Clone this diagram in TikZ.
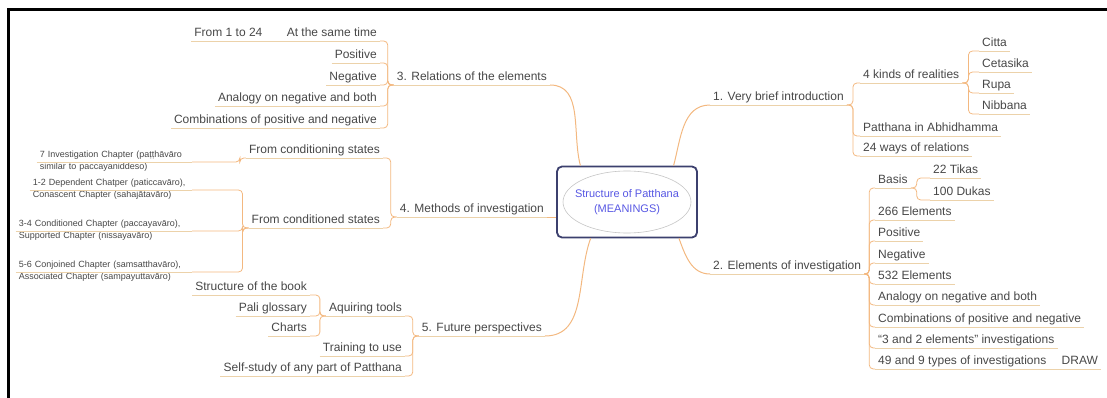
\documentclass[tikz,border=0pt]{standalone}
\usepackage{fontspec}
\setmainfont{Liberation Sans}
\usetikzlibrary{positioning}
\definecolor{branchline}{RGB}{243,184,128}
\definecolor{topiccolor}{RGB}{236,210,170}
\definecolor{titleblue}{RGB}{88,88,228}
\definecolor{boxframe}{RGB}{60,64,110}
\tikzset{
	x=1pt, y=-1pt,
	topicline/.style={draw=topiccolor, line width=0.8pt},
	topic/.style={font=\fontsize{12}{12}\selectfont, text=black!72, inner xsep=3pt, inner ysep=1.5pt, text depth=3pt,
		append after command={(\tikzlastnode.south west) edge[topicline] (\tikzlastnode.south east)}},
	rtopic/.style={topic, anchor=south west},
	ltopic/.style={topic, anchor=south east},
	note/.style={ltopic, font=\fontsize{9}{12}\selectfont, align=left},
	branch/.style={draw=branchline, line width=1pt},
	twig/.style={draw=branchline, line width=0.8pt, rounded corners=4pt},
	main/.style={draw=boxframe, line width=1.8pt, rounded corners=5pt, fill=white, minimum width=140pt,
		minimum height=71pt, align=center, text=titleblue, font=\fontsize{11}{15}\selectfont},
	oval/.style={draw=gray!45, line width=0.6pt},
}
\begin{document}
\begin{tikzpicture}
	\useasboundingbox (0,0) rectangle (1107,398);
	\draw[line width=3pt] (8.5,398) -- (8.5,9.5) -- (1107,9.5);

	\node[main] (PATTHANA) at (627,202) {Structure of Patthana\\(MEANINGS)};
	\draw[oval] (PATTHANA.center) ellipse [x radius=64pt, y radius=31pt];

	\node[rtopic] (INTRO) at (710,105) {1. Very brief introduction};
	\node[rtopic] (kinds) at (860,83) {4 kinds of realities};
	\node[rtopic] (citta) at (979,51) {Citta};
	\node[rtopic] (cetasika) at (979,72) {Cetasika};
	\node[rtopic] (rupa) at (979,93) {Rupa};
	\node[rtopic] (nibbana) at (979,114) {Nibbana};
	\node[rtopic] (abhi) at (860,136) {Patthana in Abhidhamma};
	\node[rtopic] (ways) at (860,156) {24 ways of relations};

	\node[rtopic] (ELEM) at (710,274) {2. Elements of investigation};
	\node[rtopic] (basis) at (875,188) {Basis};
	\node[rtopic] (tikas) at (930,178) {22 Tikas};
	\node[rtopic] (dukas) at (930,200) {100 Dukas};
	\node[rtopic] (e266) at (875,220) {266 Elements};
	\node[rtopic] (epos) at (875,241) {Positive};
	\node[rtopic] (eneg) at (875,263) {Negative};
	\node[rtopic] (e532) at (875,284) {532 Elements};
	\node[rtopic] (eana) at (875,305) {Analogy on negative and both};
	\node[rtopic] (ecomb) at (875,327) {Combinations of positive and negative};
	\node[rtopic] (e32) at (875,348) {``3 and 2 elements'' investigations};
	\node[rtopic] (e49) at (875,369) {49 and 9 types of investigations};
	\node[rtopic, right=9pt of e49.south east, anchor=south west] (drawing) {DRAW};

	\node[ltopic] (RELA) at (550,85) {3. Relations of the elements};
	\node[ltopic] (same) at (380,41) {At the same time};
	\node[ltopic, left=18pt of same.south west, anchor=south east] (from24) {From 1 to 24};
	\node[ltopic] (rpos) at (380,63) {Positive};
	\node[ltopic] (rneg) at (380,85) {Negative};
	\node[ltopic] (rana) at (380,106) {Analogy on negative and both};
	\node[ltopic] (rcomb) at (380,128) {Combinations of positive and negative};

	\node[ltopic] (METH) at (547,217) {4. Methods of investigation};
	\node[ltopic] (fcing) at (383,158) {From conditioning states};
	\node[ltopic] (fced) at (383,228) {From conditioned states};
	\node[note, text width=149pt] (ch7) at (192,162) {7 Investigation Chapter (paṭṭhāvāro\\similar to paccayaniddeso)};
	\node[note, text width=156pt] (ch12) at (192,190) {1-2 Dependent Chatper (paticcavāro),\\Conascent Chapter (sahajātavāro)};
	\node[note, text width=170pt] (ch34) at (192,231) {3-4 Conditioned Chapter (paccayavāro),\\Supported Chapter (nissayavāro)};
	\node[note, text width=170pt] (ch56) at (192,272) {5-6 Conjoined Chapter (samsatthavāro),\\Associated Chapter (sampayuttavāro)};

	\node[ltopic] (FUTU) at (545,336) {5. Future perspectives};
	\node[ltopic] (tools) at (405,316) {Aquiring tools};
	\node[ltopic] (book) at (310,295) {Structure of the book};
	\node[ltopic] (pali) at (310,316) {Pali glossary};
	\node[ltopic] (charts) at (310,336) {Charts};
	\node[ltopic] (train) at (405,356) {Training to use};
	\node[ltopic] (self) at (405,376) {Self-study of any part of Patthana};

	\draw[branch] (PATTHANA.38) to[out=75, in=180] (INTRO.south west);
	\draw[branch] (PATTHANA.-35) to[out=-70, in=180] (ELEM.south west);
	\draw[branch] (PATTHANA.142) to[out=105, in=0] (RELA.south east);
	\draw[branch] (METH.south east) -- (METH.south east -| PATTHANA.west);
	\draw[branch] (PATTHANA.-135) to[out=-110, in=0] (FUTU.south east);

	\foreach \n in {kinds,abhi,ways}
		\draw[twig] (INTRO.south east) -- ++(6,0) |- (\n.south west);
	\foreach \n in {citta,cetasika,rupa,nibbana}
		\draw[twig] (kinds.south east) -- ++(6,0) |- (\n.south west);
	\foreach \n in {basis,e266,epos,eneg,e532,eana,ecomb,e32,e49}
		\draw[twig] (ELEM.south east) -- ++(5,0) |- (\n.south west);
	\foreach \n in {tikas,dukas}
		\draw[twig] (basis.south east) -- ++(6,0) |- (\n.south west);
	\draw[topicline] (e49.south east) -- (drawing.south west);

	\foreach \n in {same,rpos,rneg,rana,rcomb}
		\draw[twig] (RELA.south west) -- ++(-6,0) |- (\n.south east);
	\draw[topicline] (same.south west) -- (from24.south east);
	\foreach \n in {fcing,fced}
		\draw[twig] (METH.south west) -- ++(-6,0) |- (\n.south east);
	\draw[twig] (fcing.south west) -- ++(-6,0) |- (ch7.south east);
	\foreach \n in {ch12,ch34,ch56}
		\draw[twig] (fced.south west) -- ++(-6,0) |- (\n.south east);
	\foreach \n in {tools,train,self}
		\draw[twig] (FUTU.south west) -- ++(-6,0) |- (\n.south east);
	\foreach \n in {book,pali,charts}
		\draw[twig] (tools.south west) -- ++(-6,0) |- (\n.south east);
\end{tikzpicture}
\end{document}
